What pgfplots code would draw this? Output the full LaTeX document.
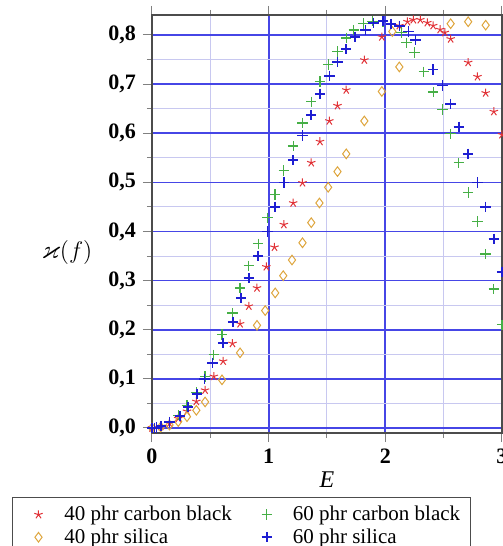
\documentclass[border=0pt]{standalone}
\usepackage{fontspec}
\setmainfont{Liberation Serif}
\usepackage{amssymb}
\usepackage{pgfplots}
\pgfplotsset{compat=1.18}
\usetikzlibrary{calc}
\definecolor{cred}{RGB}{225,50,55}
\definecolor{corange}{RGB}{222,165,60}
\definecolor{cgreen}{RGB}{70,175,70}
\definecolor{cblue}{RGB}{30,30,210}
\definecolor{gridblue}{RGB}{70,70,230}
\definecolor{gridlight}{RGB}{200,200,240}
\pgfplotsset{myleg/.style={legend image code/.code={%
  \path[draw=none,fill=none] (0pt,-3pt) rectangle (21pt,3pt);
  \draw[mark repeat=2,mark phase=2,##1] plot coordinates {(0pt,0pt) (10pt,0pt) (21pt,0pt)};}}}
\begin{document}
\begin{tikzpicture}
\begin{axis}[
  scale only axis, width=175pt, height=209pt,
  xmin=0, xmax=3, ymin=-0.0102, ymax=0.8407,
  xtick={0,1,2,3}, minor xtick={0.5,1.5,2.5},
  ytick={0,0.1,0.2,0.3,0.4,0.5,0.6,0.7,0.8},
  minor ytick={0.05,0.15,0.25,0.35,0.45,0.55,0.65,0.75},
  grid=both,
  major grid style={draw=gridblue, line width=0.8pt},
  minor grid style={draw=gridlight, line width=0.5pt},
  major x grid style={draw=gridblue, line width=1pt},
  major y grid style={draw=gridblue, line width=0.8pt},
  tick align=outside,
  tick style={line width=0.5pt},
  major tick length=4.5pt, minor tick length=2.5pt,
  axis line style={draw=black!70, line width=0.6pt},
  /pgf/number format/assume math mode=true,
  ticklabel style={font=\fontsize{11}{13}\selectfont\bfseries},
  yticklabel style={/pgf/number format/.cd, fixed, fixed zerofill, precision=1, use comma},
  xlabel={\textit{E}},
  xlabel style={font=\fontsize{12}{14}\selectfont, at={(axis description cs:0.5,-0.1124)}, anchor=center},
  ylabel={$\varkappa(f)$},
  ylabel style={font=\fontsize{13}{15}\selectfont, rotate=-90, at={(axis description cs:-0.243,0.433)}, anchor=center},
  legend columns=2,
  legend cell align=left,
  legend style={at={(axis description cs:-0.4,-0.154)}, anchor=north west, draw=black!70, line width=0.5pt,
    font=\fontsize{10.5}{12}\selectfont, row sep=-1.5pt,
    /tikz/every even column/.append style={column sep=5.5pt}},
]
\addplot[only marks, mark=star, mark size=2.2pt, color=cred, line width=0.5pt, myleg] coordinates {
(0,0) (0.075,0.003) (0.15,0.009) (0.225,0.019) (0.30,0.034) (0.38,0.054) (0.455,0.077) (0.53,0.105)
(0.61,0.136) (0.69,0.172) (0.755,0.212) (0.83,0.248) (0.90,0.285) (0.98,0.328) (1.05,0.368) (1.13,0.414)
(1.21,0.458) (1.29,0.499) (1.365,0.540) (1.44,0.583) (1.52,0.625) (1.59,0.656) (1.665,0.688) (1.82,0.749)
(1.97,0.796) (2.12,0.819) (2.19,0.827) (2.24,0.831) (2.30,0.831) (2.36,0.825) (2.41,0.819) (2.47,0.811)
(2.51,0.805) (2.56,0.792) (2.71,0.744) (2.79,0.715) (2.86,0.682) (2.93,0.644) (3.00,0.597)
};
\addlegendentry{40 phr carbon black}
\addplot[only marks, mark=+, mark size=2.6pt, color=cgreen, line width=0.6pt, myleg] coordinates {
(0,0) (0.075,0.004) (0.15,0.012) (0.225,0.026) (0.30,0.046) (0.38,0.072) (0.455,0.105) (0.53,0.149)
(0.60,0.190) (0.69,0.234) (0.755,0.285) (0.83,0.330) (0.91,0.375) (0.99,0.428) (1.055,0.475) (1.13,0.524)
(1.21,0.574) (1.29,0.621) (1.365,0.664) (1.44,0.705) (1.51,0.740) (1.59,0.766) (1.665,0.794) (1.73,0.810)
(1.81,0.823) (1.89,0.828) (1.98,0.827) (2.14,0.805) (2.18,0.784) (2.25,0.764) (2.33,0.725) (2.41,0.684)
(2.49,0.648) (2.56,0.599) (2.63,0.540) (2.71,0.479) (2.79,0.420) (2.86,0.354) (2.93,0.283) (3.00,0.210)
};
\addlegendentry{60 phr carbon black}
\addplot[only marks, mark=diamond, mark size=2.4pt, color=corange, line width=0.5pt, myleg] coordinates {
(0,0) (0.075,0.002) (0.15,0.006) (0.225,0.013) (0.30,0.023) (0.38,0.036) (0.455,0.053) (0.60,0.098)
(0.755,0.153) (0.90,0.209) (0.97,0.239) (1.056,0.275) (1.125,0.310) (1.20,0.342) (1.29,0.377) (1.365,0.418)
(1.435,0.458) (1.51,0.490) (1.59,0.522) (1.665,0.558) (1.82,0.625) (1.97,0.685) (2.06,0.807) (2.12,0.735)
(2.56,0.823) (2.71,0.827) (2.86,0.820)
};
\addlegendentry{40 phr silica}
\addplot[only marks, mark=+, mark size=2.6pt, color=cblue, line width=0.8pt, myleg] coordinates {
(0,0) (0.02,0.0005) (0.04,0.001) (0.075,0.004) (0.15,0.012) (0.24,0.024) (0.31,0.043) (0.385,0.069)
(0.45,0.100) (0.52,0.132) (0.61,0.173) (0.695,0.216) (0.765,0.265) (0.83,0.305) (0.91,0.350) (0.99,0.400)
(1.055,0.450) (1.13,0.500) (1.21,0.545) (1.29,0.595) (1.365,0.637) (1.44,0.680) (1.52,0.717) (1.59,0.745)
(1.665,0.772) (1.74,0.796) (1.83,0.810) (1.90,0.825) (1.98,0.828) (2.05,0.822) (2.12,0.818) (2.20,0.807)
(2.26,0.790) (2.41,0.730) (2.49,0.697) (2.56,0.660) (2.63,0.613) (2.71,0.558) (2.79,0.500) (2.86,0.450)
(2.93,0.385) (3.00,0.318)
};
\addlegendentry{60 phr silica}
\coordinate (BL) at (rel axis cs:0,0);
\coordinate (TR) at (rel axis cs:1,1);
\end{axis}
\pgfresetboundingbox
\path[use as bounding box] ($(BL)+(-76pt,-56.5pt)$) rectangle ($(TR)+(0.5pt,7.5pt)$);
\end{tikzpicture}
\end{document}
